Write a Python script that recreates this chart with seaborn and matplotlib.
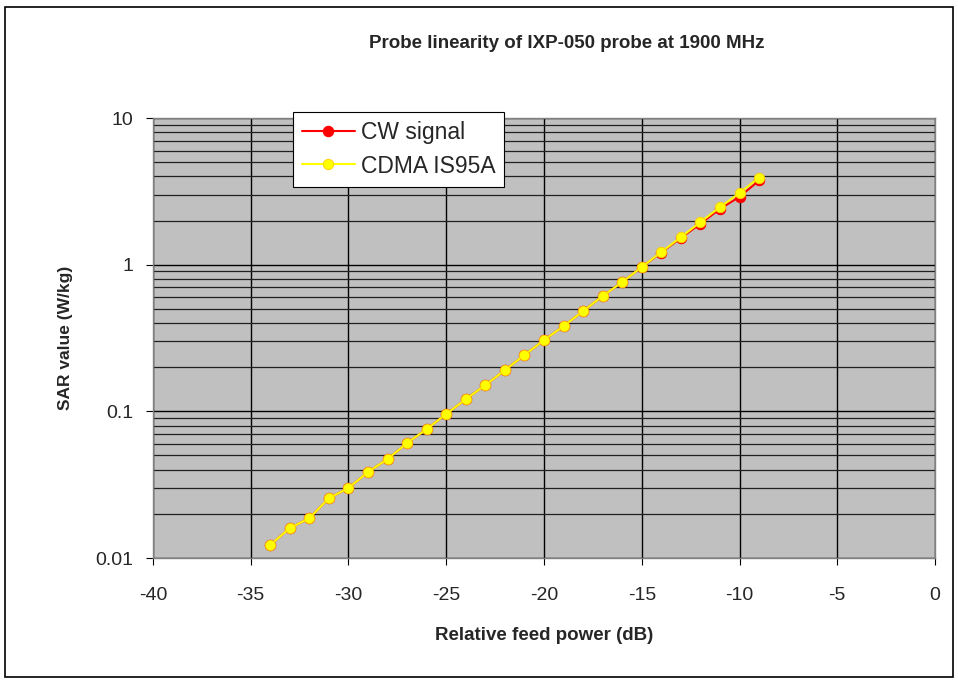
"""
    Probe linearity chart (SAR vs relative feed power), log scale
"""

import seaborn as sns
import pandas as pd
import matplotlib.pyplot as plt
from matplotlib.patches import Rectangle
from matplotlib.ticker import FixedLocator, LogLocator, NullFormatter

# Data
power_db = list(range(-34, -8))
cw_signal = [0.0123, 0.0160, 0.0187, 0.0256, 0.0300, 0.0386, 0.0473, 0.0608,
             0.0757, 0.0959, 0.121, 0.151, 0.191, 0.242, 0.306, 0.381,
             0.483, 0.611, 0.761, 0.963, 1.21, 1.52, 1.90, 2.40, 2.90, 3.75]
cdma_is95a = [0.0123, 0.0160, 0.0187, 0.0256, 0.0300, 0.0386, 0.0473, 0.0608,
              0.0757, 0.0959, 0.121, 0.151, 0.191, 0.242, 0.306, 0.381,
              0.483, 0.611, 0.761, 0.963, 1.22, 1.54, 1.95, 2.47, 3.08, 3.92]
x_ticks = [-40, -35, -30, -25, -20, -15, -10, -5, 0]
y_ticks = [0.01, 0.1, 1, 10]
y_tick_labels = ['0.01', '0.1', '1', '10']

sns.set_style('white')
plt.rcParams['font.family'] = ['Liberation Sans', 'DejaVu Sans']

df = pd.DataFrame({'power': power_db, 'cw': cw_signal, 'cdma': cdma_is95a})

fig = plt.figure(figsize=(9.58, 6.81), dpi=100)
ax = fig.add_axes([0.1597, 0.1806, 0.8163, 0.6461])
ax.set_facecolor('#c0c0c0')

sns.lineplot(x='power', y='cw', data=df, ax=ax, color='#ff0000', marker='o',
             markersize=7.5, markeredgecolor='#ff0000', linewidth=1.5,
             label='CW signal', zorder=3)
sns.lineplot(x='power', y='cdma', data=df, ax=ax, color='#ffff00', marker='o',
             markersize=7.5, markeredgecolor='#ffcc00', markeredgewidth=0.6,
             linewidth=1.5, label='CDMA IS95A', zorder=4)

ax.set_yscale('log')
ax.set_xlim(-40, 0)
ax.set_ylim(0.01, 10)
ax.xaxis.set_major_locator(FixedLocator(x_ticks))
ax.set_xticklabels([str(t) for t in x_ticks])
ax.set_yticks(y_ticks)
ax.set_yticklabels(y_tick_labels)
ax.yaxis.set_minor_locator(LogLocator(base=10, subs=range(2, 10)))
ax.yaxis.set_minor_formatter(NullFormatter())

# Gridlines like the spreadsheet chart
ax.grid(True, which='major', axis='both', color='#000000', linewidth=1.0)
ax.grid(True, which='minor', axis='y', color='#202020', linewidth=0.9)
ax.set_axisbelow(True)

ax.tick_params(axis='both', which='major', labelsize=14, direction='out',
               length=5, width=0.8, color='black', bottom=True, left=True)
ax.tick_params(axis='y', which='minor', length=0)
ax.tick_params(axis='x', pad=16)
ax.tick_params(axis='y', pad=9)
for s in ax.spines.values():
    s.set_color('#808080')
    s.set_linewidth(1.0)

ax.set_xlabel('Relative feed power (dB)', fontsize=13.5, fontweight='bold')
ax.set_ylabel('SAR value (W/kg)', fontsize=12.5, fontweight='bold')
ax.xaxis.set_label_coords(0.5, -0.156)
ax.yaxis.set_label_coords(-0.102, 0.5)

fig.text(0.592, 0.936, 'Probe linearity of IXP-050 probe at 1900 MHz',
         ha='center', va='center', fontsize=13.5, fontweight='bold')

leg = ax.legend(loc='upper left', bbox_to_anchor=(0.179, 1.0136), fontsize=16.5,
                frameon=True, fancybox=False, edgecolor='black', framealpha=1,
                borderpad=0.4, labelspacing=0.45, handlelength=2.3,
                handletextpad=0.25, borderaxespad=0)
leg.get_frame().set_linewidth(0.8)

# Chart area border
fig.patches.append(Rectangle((0.005, 0.006), 0.99, 0.984, transform=fig.transFigure,
                             fill=False, edgecolor='black', linewidth=1.2))

plt.savefig('out.png', dpi=100)
